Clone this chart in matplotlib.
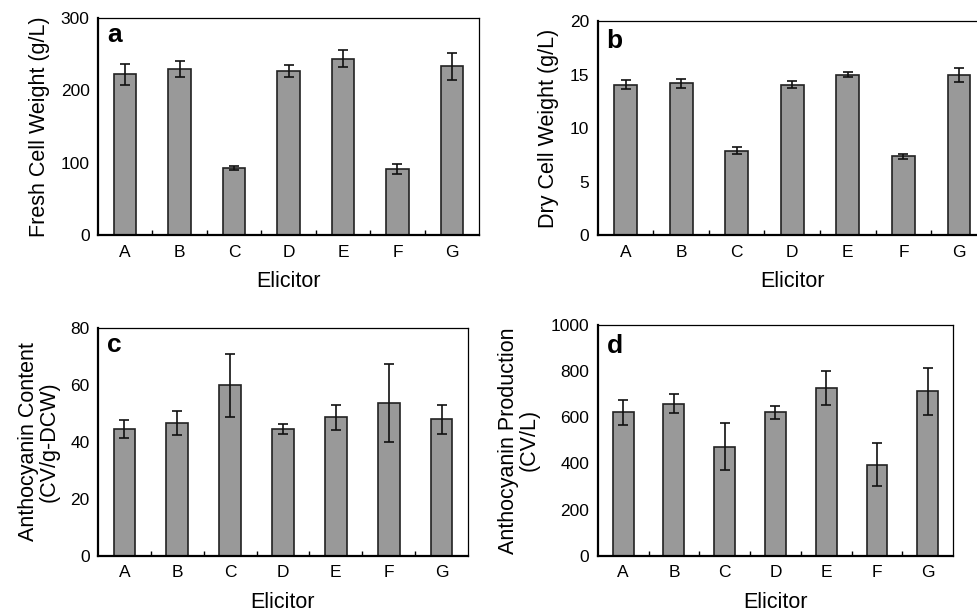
import matplotlib
matplotlib.use("Agg")
import matplotlib.pyplot as plt
import numpy as np

plt.rcParams['font.family'] = ['Liberation Sans', 'DejaVu Sans']

categories = ['A', 'B', 'C', 'D', 'E', 'F', 'G']

fresh_weight = [222, 230, 93, 227, 244, 91, 233]
fresh_err = [14, 11, 2.5, 8, 12, 6.5, 19]

dry_weight = [14.05, 14.17, 7.9, 14.05, 15.0, 7.35, 14.95]
dry_err = [0.4, 0.45, 0.3, 0.33, 0.23, 0.2, 0.65]

antho_content = [44.5, 46.7, 59.8, 44.5, 48.6, 53.6, 47.9]
antho_content_err = [3.1, 4.3, 11, 1.8, 4.3, 13.8, 5.2]

antho_prod = [621, 659, 473, 621, 726, 395, 712]
antho_prod_err = [54, 41, 101, 27, 73, 94, 103]

panels = [
    dict(rect=[0.1002, 0.6166, 0.3896, 0.354], vals=fresh_weight, err=fresh_err,
         ylim=300, yticks=[0, 100, 200, 300], ylabel='Fresh Cell Weight (g/L)',
         letter='a', lpos=(0.024, 0.889)),
    dict(rect=[0.6112, 0.6166, 0.3978, 0.349], vals=dry_weight, err=dry_err,
         ylim=20, yticks=[0, 5, 10, 15, 20], ylabel='Dry Cell Weight (g/L)',
         letter='b', lpos=(0.023, 0.874)),
    dict(rect=[0.1002, 0.0935, 0.3783, 0.3715], vals=antho_content, err=antho_content_err,
         ylim=80, yticks=[0, 20, 40, 60, 80], ylabel='Anthocyanin Content\n(CV/g-DCW)',
         letter='c', lpos=(0.025, 0.896)),
    dict(rect=[0.6112, 0.0935, 0.3633, 0.3763], vals=antho_prod, err=antho_prod_err,
         ylim=1000, yticks=[0, 200, 400, 600, 800, 1000], ylabel='Anthocyanin Production\n(CV/L)',
         letter='d', lpos=(0.026, 0.879)),
]

fig = plt.figure(figsize=(9.78, 6.13), dpi=100)
x = np.arange(len(categories))
for p in panels:
    ax = fig.add_axes(p['rect'])
    ax.bar(x, p['vals'], width=0.41, color='#999999', edgecolor='#222222', linewidth=1.2, zorder=2)
    ax.errorbar(x, p['vals'], yerr=p['err'], fmt='none', ecolor='#111111',
                elinewidth=1.2, capsize=3.5, capthick=1.2, zorder=3)
    ax.set_xlim(-0.5, 6.5)
    ax.set_ylim(0, p['ylim'])
    ax.set_yticks(p['yticks'])
    ax.set_xticks(x)
    ax.set_xticklabels(categories)
    ax.set_xticks(np.arange(0.5, 6.5, 1.0), minor=True)
    ax.tick_params(axis='x', which='major', length=0, labelsize=12.5, pad=7)
    ax.tick_params(axis='x', which='minor', direction='in', length=3.5, width=1)
    ax.tick_params(axis='y', length=0, labelsize=12.5, pad=6)
    for s in ['left', 'bottom']:
        ax.spines[s].set_linewidth(1.6)
    for s in ['top', 'right']:
        ax.spines[s].set_linewidth(0.9)
    ax.set_xlabel('Elicitor', fontsize=15.5, labelpad=8)
    ax.set_ylabel(p['ylabel'], fontsize=15.5, labelpad=8, linespacing=0.95)
    ax.text(p['lpos'][0], p['lpos'][1], p['letter'], transform=ax.transAxes,
            fontsize=19, fontweight='bold', va='baseline', ha='left')

fig.savefig('out.png', dpi=100)
